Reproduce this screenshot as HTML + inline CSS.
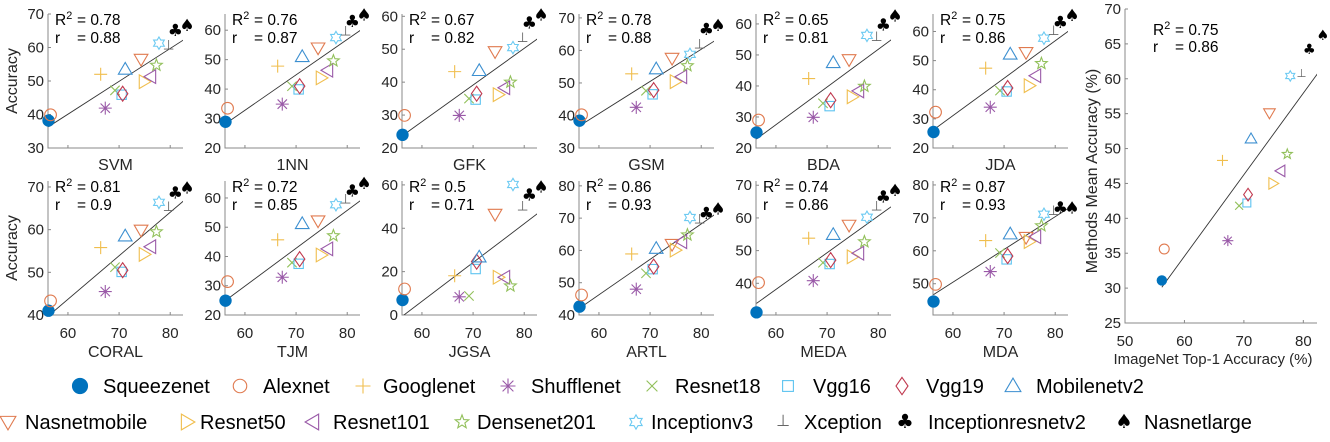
<!DOCTYPE html>
<html><head><meta charset="utf-8">
<style>
html,body{margin:0;padding:0;background:#fff;}
svg text{font-family:"Liberation Sans",Arial,sans-serif;}
svg text.glyph{font-family:"DejaVu Sans","Liberation Sans",sans-serif;}
</style></head>
<body>
<svg id="fig" width="1330" height="437" viewBox="0 0 1330 437" xmlns="http://www.w3.org/2000/svg"></svg>
<script>
// ---- data ----
const networks = ["Squeezenet","Alexnet","Googlenet","Shufflenet","Resnet18","Vgg16","Vgg19","Mobilenetv2","Nasnetmobile","Resnet50","Resnet101","Densenet201","Inceptionv3","Xception","Inceptionresnetv2","Nasnetlarge"];
const imagenetTop1 = [56.2,56.6,66.4,67.3,69.2,70.5,70.7,71.2,74.3,74.9,76.2,77.3,77.8,79.7,81.0,83.3];
const methods = ["SVM","1NN","GFK","GSM","BDA","JDA","CORAL","TJM","JGSA","ARTL","MEDA","MDA"];
const accSVM   = [38.2,39.9,52.0,41.9,47.2,45.9,46.2,53.5,56.5,49.8,51.3,54.7,61.3,60.5,65.0,66.5];
const acc1NN   = [28.9,33.5,47.8,34.9,41.0,39.9,41.0,51.0,54.0,43.8,46.4,49.6,57.5,59.4,62.8,65.1];
const accGFK   = [24.0,29.9,43.2,29.9,35.0,34.7,36.5,43.5,49.3,36.2,38.3,40.0,50.5,53.3,57.8,60.3];
const accGSM   = [38.4,40.2,52.8,42.5,47.6,46.5,47.8,54.3,57.6,50.4,51.9,55.3,58.8,61.7,66.3,67.5];
const accBDA   = [25.0,29.0,42.4,29.9,34.4,33.5,35.4,47.5,48.5,36.5,38.4,39.9,56.3,55.6,59.5,62.4];
const accJDA   = [25.5,32.3,47.4,34.0,39.7,39.4,40.6,52.2,52.8,41.4,44.8,49.0,57.7,60.1,63.0,65.3];
const accCORAL = [41.0,43.3,55.8,45.5,51.2,50.1,50.5,58.5,59.9,54.2,56.0,59.5,66.4,65.2,68.5,69.7];
const accTJM   = [24.9,31.4,45.7,32.9,37.9,37.5,39.1,51.2,52.2,40.5,42.6,47.1,57.7,59.4,62.2,64.8];
const accJGSA  = [6.9,12.0,18.1,8.4,8.8,21.2,24.6,26.7,46.5,17.4,17.4,13.4,60.2,49.9,55.3,58.8];
const accARTL  = [42.6,46.2,58.9,48.0,52.9,54.2,55.0,60.6,61.9,60.1,62.7,64.8,70.2,69.4,71.3,72.7];
const accMEDA  = [31.1,40.2,53.8,40.8,46.3,45.9,47.1,54.9,57.8,48.1,49.2,52.7,60.2,63.4,66.3,68.3];
const accMDA   = [44.6,49.8,63.1,53.7,59.3,57.4,58.4,65.1,64.1,62.8,64.3,67.6,71.1,71.9,72.9,72.9];
const accMean  = [31.1,35.6,48.3,36.8,41.8,42.2,43.4,51.4,55.1,45.0,46.8,49.2,60.4,60.7,64.2,66.2];
const r2Labels = ["0.78","0.76","0.67","0.78","0.65","0.75","0.81","0.72","0.5","0.86","0.74","0.87"];
const rLabels  = ["0.88","0.87","0.82","0.88","0.81","0.86","0.9","0.85","0.71","0.93","0.86","0.93"];
const meanR2 = "0.75";
const meanR = "0.86";
const xTicks = [60,70,80];
const bigXTicks = [50,60,70,80];
const bigYTicks = [25,30,35,40,45,50,55,60,65,70];

// ---- layout / style ----
const seriesData = [accSVM,acc1NN,accGFK,accGSM,accBDA,accJDA,accCORAL,accTJM,accJGSA,accARTL,accMEDA,accMDA];
const yDomains = [[30,70],[20,65.5],[20,60.7],[30,71.2],[20,63.2],[20,66],[40,71.4],[20,65.8],[0,61.8],[40,81.5],[30.3,71.3],[40.5,81.2]];
const yStep = [10,10,10,10,10,10,10,10,20,10,10,10];
const shapes = ["dot","circle","plus","star6","xmark","square","diamond","tri","tridown","triright","trileft","penta","hexa","perp","club","spade"];
const colors = ["#0072BD","#E07A4F","#F0BE4E","#9A5AA8","#92C05B","#5CC3F0","#C0394F","#3C8FD0","#E07A4F","#F0BE4E","#9A5AA8","#92C05B","#6CCAF2","#666","#000","#000"];
const colL = [48,225,402,579,756,933], rowT = [14,181], PW = 135, PH = 134;
const XD = [56.1,82.5];
const NS = "http://www.w3.org/2000/svg";
const fig = document.getElementById('fig');
function mk(tag, attrs, parent){ const e=document.createElementNS(NS,tag); for(const k in attrs) e.setAttribute(k,attrs[k]); (parent||fig).appendChild(e); return e; }

function marker(g, type, cx, cy, s, col){
  let e;
  const P = pts => pts.map(p=>(cx+p[0]*s).toFixed(2)+','+(cy+p[1]*s).toFixed(2)).join(' ');
  const sw = 1.1;
  if(type==='dot'){ e=mk('circle',{cx,cy,r:s*0.95,fill:col},g); }
  else if(type==='circle'){ e=mk('circle',{cx,cy,r:s*0.9,fill:'none',stroke:col,'stroke-width':sw},g); }
  else if(type==='plus'){ e=mk('path',{d:`M${cx-s},${cy}H${cx+s}M${cx},${cy-s}V${cy+s}`,stroke:col,'stroke-width':sw,fill:'none'},g); }
  else if(type==='xmark'){ const a=s*0.72; e=mk('path',{d:`M${cx-a},${cy-a}L${cx+a},${cy+a}M${cx-a},${cy+a}L${cx+a},${cy-a}`,stroke:col,'stroke-width':sw,fill:'none'},g); }
  else if(type==='star6'){ const a=s*0.72; e=mk('path',{d:`M${cx-s},${cy}H${cx+s}M${cx},${cy-s}V${cy+s}M${cx-a},${cy-a}L${cx+a},${cy+a}M${cx-a},${cy+a}L${cx+a},${cy-a}`,stroke:col,'stroke-width':sw,fill:'none'},g); }
  else if(type==='square'){ e=mk('rect',{x:cx-s*0.72,y:cy-s*0.72,width:s*1.44,height:s*1.44,fill:'none',stroke:col,'stroke-width':sw},g); }
  else if(type==='diamond'){ e=mk('polygon',{points:P([[0,-1.15],[0.8,0],[0,1.15],[-0.8,0]]),fill:'none',stroke:col,'stroke-width':sw},g); }
  else if(type==='tri'){ e=mk('polygon',{points:P([[0,-1.05],[1.05,0.75],[-1.05,0.75]]),fill:'none',stroke:col,'stroke-width':sw},g); }
  else if(type==='tridown'){ e=mk('polygon',{points:P([[0,1.05],[1.05,-0.75],[-1.05,-0.75]]),fill:'none',stroke:col,'stroke-width':sw},g); }
  else if(type==='triright'){ e=mk('polygon',{points:P([[1.05,0],[-0.75,1.05],[-0.75,-1.05]]),fill:'none',stroke:col,'stroke-width':sw},g); }
  else if(type==='trileft'){ e=mk('polygon',{points:P([[-1.05,0],[0.75,1.05],[0.75,-1.05]]),fill:'none',stroke:col,'stroke-width':sw},g); }
  else if(type==='penta'||type==='hexa'){
    const n = type==='penta'?5:6, ro=s*0.95, ri = type==='penta'?s*0.4:s*0.55; const arr=[];
    for(let i=0;i<2*n;i++){ const ang=-Math.PI/2+i*Math.PI/n; const rr=i%2?ri:ro; arr.push((cx+rr*Math.cos(ang)).toFixed(2)+','+(cy+rr*Math.sin(ang)).toFixed(2)); }
    e=mk('polygon',{points:arr.join(' '),fill:'none',stroke:col,'stroke-width':sw},g);
  }
  else if(type==='perp'){
    e=mk('text',{x:cx,y:cy+s*0.55,'text-anchor':'middle','font-size':s*2.1,fill:col},g); e.textContent='\u22A5';
  }
  else { const ch = type==='club'?'\u2663':'\u2660';
    e=mk('text',{class:'glyph',x:cx,y:cy+s*0.8,'text-anchor':'middle','font-size':s*2.6,fill:col},g); e.textContent=ch; }
  return e;
}

function regression(xs, ys){
  const n=xs.length; let mx=0,my=0; for(let i=0;i<n;i++){mx+=xs[i];my+=ys[i];} mx/=n; my/=n;
  let sxy=0,sxx=0; for(let i=0;i<n;i++){sxy+=(xs[i]-mx)*(ys[i]-my); sxx+=(xs[i]-mx)**2;}
  const b=sxy/sxx; return [my-b*mx, b];
}

function drawPanel(idx, L, T, W, H, xd, yd, ys, xt, ytks, showXT, title, r2, r, ms, opts){
  const g = mk('g',{});
  
  
  const sx = v => L + (v-xd[0])/(xd[1]-xd[0])*W;
  const sy = v => T + H - (v-yd[0])/(yd[1]-yd[0])*H;
  const clipId='clip'+idx;
  const cp = mk('clipPath',{id:clipId},g); mk('rect',{x:L,y:T-20,width:W,height:H+20},cp);
  const ax = mk('path',{d:`M${L},${T}V${T+H}H${L+W}`,stroke:'#888',fill:'none','stroke-width':1},g);
   
  xt.forEach(v=>{ const x=sx(v); mk('line',{x1:x,y1:T+H,x2:x,y2:T+H-3,stroke:'#888'},g);
    if(showXT){ const t=mk('text',{x:x,y:T+H+23,'text-anchor':'middle','font-size':opts.tf,fill:'#262626'},g); t.textContent=v;
        } });
  ytks.forEach(v=>{ const y=sy(v); mk('line',{x1:L,y1:y,x2:L+3,y2:y,stroke:'#888'},g);
    const t=mk('text',{x:L-4,y:y+5,'text-anchor':'end','font-size':opts.tf,fill:'#262626'},g); t.textContent=v;
      });
  const [a,b] = regression(imagenetTop1, ys);
  const x0=Math.min(...imagenetTop1), x1=Math.max(...imagenetTop1);
  const fl = mk('line',{x1:sx(x0),y1:sy(a+b*x0),x2:sx(x1),y2:sy(a+b*x1),stroke:'#333','stroke-width':0.9,'clip-path':`url(#${clipId})`},g);
   
  ys.forEach((v,i)=>{ const m = marker(g, shapes[i], sx(imagenetTop1[i]), sy(v), ms, colors[i]);
    
     });
  const t1 = mk('text',{x:L+opts.sxo,y:T+opts.r2y,'font-size':opts.sf,fill:'#000'},g);
   
  t1.innerHTML = 'R<tspan dy="-6" font-size="'+(opts.sf*0.7)+'">2</tspan>';
  const t1b = mk('text',{x:L+opts.eqo,y:T+opts.r2y,'font-size':opts.sf,fill:'#000'},g); t1b.textContent='= '+r2;
   
  const t2 = mk('text',{x:L+opts.sxo,y:T+opts.ry,'font-size':opts.sf,fill:'#000'},g); t2.textContent='r';
   
  const t2b = mk('text',{x:L+opts.eqo,y:T+opts.ry,'font-size':opts.sf,fill:'#000'},g); t2b.textContent='= '+r;
   
  return {g,sx,sy};
}

methods.forEach((m,i)=>{
  const row = i<6?0:1, col=i%6;
  const L=colL[col], T=rowT[row];
  const yd=yDomains[i], st=yStep[i]; const yt=[];
  for(let v=Math.ceil(yd[0]/st)*st; v<=yd[1]+1e-6; v+=st) yt.push(v);
  const p = drawPanel(i, L, T, PW, PH, XD, yd, seriesData[i], xTicks, yt, row===1, m, r2Labels[i], rLabels[i], 6.5,
    {tf:15, sf:15.5, sxo:7, eqo:29, r2y:11, ry:29});
  const xl = mk('text',{x:L+PW/2,y:row===0?T+PH+22:T+PH+42,'text-anchor':'middle','font-size':16,fill:'#262626'},p.g);
  xl.textContent=m;  
});
[0,1].forEach(r=>{ const cy=rowT[r]+PH/2; const t=mk('text',{x:17,y:cy,'text-anchor':'middle','font-size':16,fill:'#262626',transform:`rotate(-90 17 ${cy})`});
  t.textContent='Accuracy';   });

// big plot
const BL=1125, BT=9, BW=192, BH=314;
const bp = drawPanel(99, BL, BT, BW, BH, [50,82.3], [25,70], accMean, bigXTicks, bigYTicks, true, 'mean', meanR2, meanR, 5.5,
  {tf:15, sf:15.5, sxo:28, eqo:50, r2y:26, ry:43});
const bx = mk('text',{x:BL+BW/2-8,y:BT+BH+41,'text-anchor':'middle','font-size':15,fill:'#262626'});
bx.textContent='ImageNet Top-1 Accuracy (%)';  
const byc = BT+BH/2+5;
const by = mk('text',{x:1097,y:byc,'text-anchor':'middle','font-size':16,fill:'#262626',transform:`rotate(-90 1097 ${byc})`});
by.textContent='Methods Mean Accuracy (%)';  

// legend
const legMX = [80,240,363,508,652,788,902,1013, 8,187,313,462,636,783,905,1124];
const legTX = [103,263,383,531,675,813,926,1036, 25,200,333,477,651,804,928,1144];
const lg = mk('g',{});  
networks.forEach((n,i)=>{
  const y = i<8?386:422;
  const e = mk('g',{},lg);  
  marker(e, shapes[i], legMX[i], y, i===0?8.5:7.5, colors[i]);
  const t = mk('text',{x:legTX[i],y:y+7,'font-size':20,fill:'#000'},e); t.textContent=n;
});
</script>
</body></html>
